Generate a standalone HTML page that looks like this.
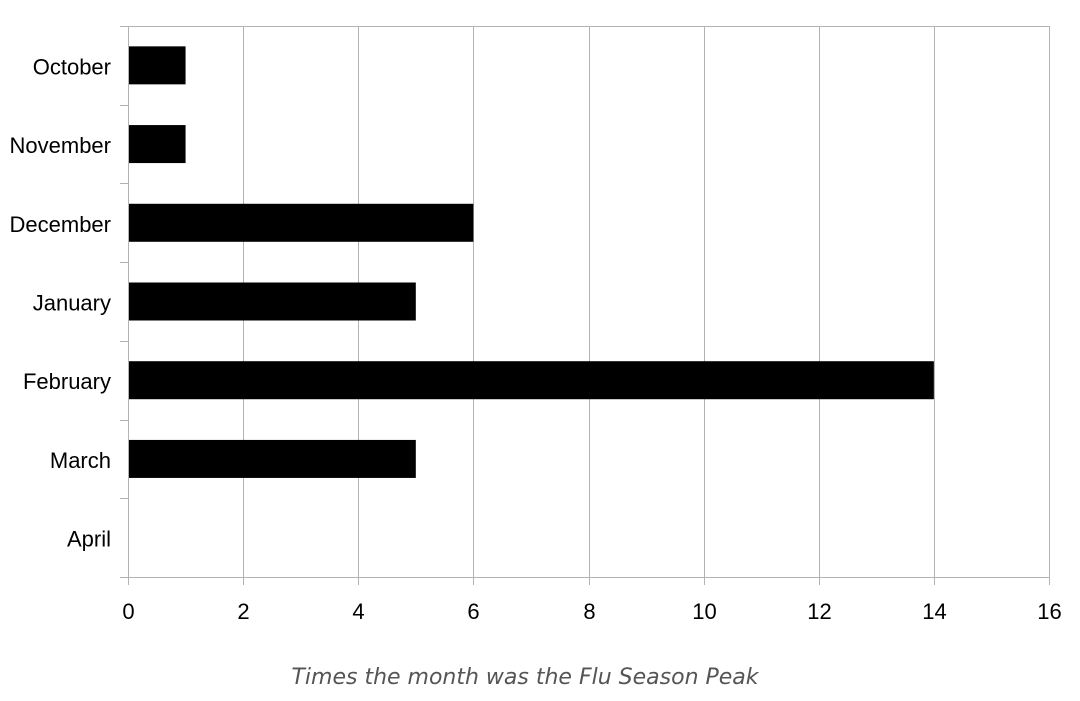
<!DOCTYPE html>
<html><head><meta charset="utf-8"><style>
html,body{margin:0;padding:0;background:#fff;}
svg{display:block;}
</style></head><body>
<svg width="1080" height="701" viewBox="0 0 1080 701" xmlns="http://www.w3.org/2000/svg">
<g id="grid"></g>
<g id="bars"></g>
<g id="axes"></g>
<text x="525" y="684" text-anchor="middle" font-family="DejaVu Sans, sans-serif" font-style="italic" font-size="22" fill="#555">Times the month was the Flu Season Peak</text>
</svg>
<script>
const categories = ["October","November","December","January","February","March","April"];
const values = [1,1,6,5,14,5,0];
const xTicks = [0,2,4,6,8,10,12,14,16];
const NS="http://www.w3.org/2000/svg";
const L=128,R=1049,T=26,B=577,xMax=16;
function xs(v){return L+(R-L)*v/xMax;}
const band=(B-T)/categories.length;
function ys(i){return T+band*i;}
function mk(tag,attrs,parent){const e=document.createElementNS(NS,tag);for(const k in attrs)e.setAttribute(k,attrs[k]);parent.appendChild(e);return e;}
const grid=document.getElementById('grid'),bars=document.getElementById('bars'),axes=document.getElementById('axes');
xTicks.forEach(t=>{
  const x=Math.round(xs(t))+0.5;
  const g=mk('line',{x1:x,x2:x,y1:T,y2:B+8,stroke:'#b3b3b3','stroke-width':1},grid);
  
  
  const tx=mk('text',{x:x,y:619,'text-anchor':'middle','font-family':'Liberation Sans, sans-serif','font-size':22,fill:'#000'},axes);
  tx.textContent=t;
  
  
});
mk('line',{x1:L,x2:R,y1:T+0.5,y2:T+0.5,stroke:'#b3b3b3'},grid);
for(let i=0;i<=categories.length;i++){
  const y=Math.round(ys(i))+0.5;
  const tk=mk('line',{x1:120,x2:L,y1:y,y2:y,stroke:'#b3b3b3'},axes);
  
  
}
categories.forEach((c,i)=>{
  const cy=ys(i)+band/2;
  const h=38;
  const r=mk('rect',{x:L,y:cy-h/2,width:xs(values[i])-L,height:h,fill:'#000'},bars);
  
  
  const t=mk('text',{x:111,y:cy+9,'text-anchor':'end','font-family':'Liberation Sans, sans-serif','font-size':22,fill:'#000'},axes);
  t.textContent=c;
  
  
});
mk('line',{x1:L+0.5,x2:L+0.5,y1:T,y2:B,stroke:'#b3b3b3'},axes);
mk('line',{x1:L,x2:R,y1:B+0.5,y2:B+0.5,stroke:'#b3b3b3'},axes);
</script>
</body></html>
